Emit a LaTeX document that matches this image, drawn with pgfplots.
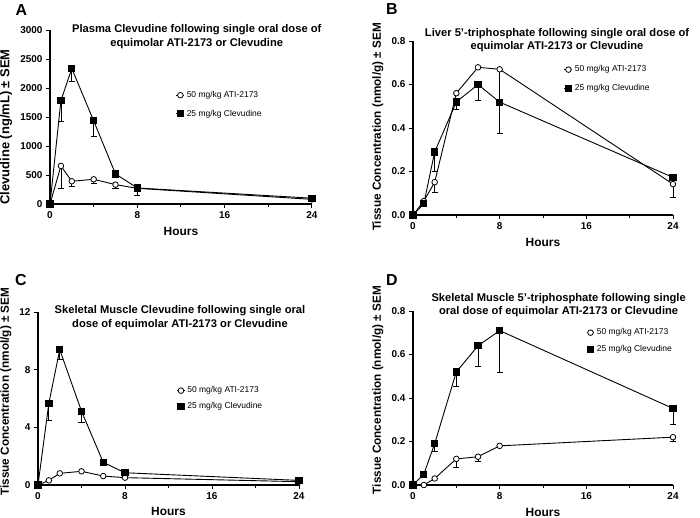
\documentclass[border=0pt]{standalone}
\usepackage{fontspec}
\setmainfont{Liberation Sans}
\usepackage{pgfplots}
\pgfplotsset{compat=1.18}
\pgfplotsset{
  panel/.style={
    anchor=south west, scale only axis, clip=false,
    axis lines=left, axis line style={-, line width=1.2bp, black},
    xmin=0, xmax=24, ymin=0,
    xtick={0,8,16,24}, minor xtick={4,12,20},
    tick align=outside, major tick length=4bp, minor tick length=2.5bp,
    tick style={black, line width=1bp},
    /pgf/number format/assume math mode=true,
    /pgf/number format/1000 sep={},
    ticklabel style={font=\bfseries\fontsize{10}{12}\selectfont},
    xlabel={Hours},
    xlabel style={font=\bfseries\fontsize{12}{14}\selectfont},
    ylabel style={font=\bfseries\fontsize{11.8}{14}\selectfont},
    every axis title shift=0pt,
    title style={anchor=center, align=center, font=\bfseries\fontsize{11.2}{13.5}\selectfont},
    legend style={draw=none, fill=none, font=\fontsize{8.5}{10}\selectfont, anchor=north west, row sep=7bp, inner sep=0pt},
    legend cell align=left,
    legend image code/.code={\draw[mark repeat=2,mark phase=2] plot coordinates {(0cm,0cm) (0.14cm,0cm) (0.28cm,0cm)};},
  },
  circ/.style={black, line width=0.9bp, mark=*, mark size=2.8bp, mark options={fill=white, line width=0.8bp}},
  sq/.style={black, line width=0.9bp, mark=square*, mark size=3.1bp, mark options={fill=black}},
  errs/.style={forget plot, draw=none,
    error bars/.cd, y dir=minus, y explicit, error mark=|,
    error bar style={draw=black, solid, line width=0.8bp},
    error mark options={draw=black, solid, mark size=3bp, line width=0.8bp}},
}
\begin{document}
\begin{tikzpicture}
\path[use as bounding box] (0,0) rectangle (700bp,-518bp);
\node[font=\bfseries\fontsize{16}{16}\selectfont] at (21.5bp,-10bp) {A};
\node[font=\bfseries\fontsize{16}{16}\selectfont] at (392bp,-9bp) {B};
\node[font=\bfseries\fontsize{16}{16}\selectfont] at (21bp,-280bp) {C};
\node[font=\bfseries\fontsize{16}{16}\selectfont] at (392bp,-280bp) {D};

% ---------------- A
\begin{axis}[panel, at={(50bp,-204bp)}, width=262bp, height=174bp,
  ymax=3000, ytick={0,500,1000,1500,2000,2500,3000},
  ylabel={Clevudine (ng/mL) ± SEM},
  ylabel style={at={(axis description cs:-0.168,0.443)}, anchor=center, font=\bfseries\fontsize{13}{15}\selectfont},
  xlabel style={at={(axis description cs:0.5,-0.155)}, anchor=center},
  title={Plasma Clevudine following single oral dose of\\equimolar ATI-2173 or Clevudine},
  title style={at={(axis description cs:0.56,0.963)}},
  legend style={at={(axis description cs:0.48,0.66)}},
]
\addplot[errs] coordinates {(1,656) -= (0,391) (2,392) -= (0,81) (4,426) -= (0,63) (6,334) -= (0,69)};
\addplot[errs] coordinates {(1,1785) -= (0,369) (2,2335) -= (0,228) (4,1434) -= (0,277) (8,276) -= (0,126)};
\addplot[circ] coordinates {(0,0) (1,656) (2,392) (4,426) (6,334) (8,270) (24,80)};
\addplot[sq] coordinates {(0,0) (1,1785) (2,2335) (4,1434) (6,518) (8,276) (24,100)};
\legend{50 mg/kg ATI-2173, 25 mg/kg Clevudine}
\end{axis}

% ---------------- B
\begin{axis}[panel, at={(413bp,-215bp)}, width=260bp, height=174bp,
  ymax=0.8, ytick={0,0.2,0.4,0.6,0.8},
  yticklabel style={/pgf/number format/.cd, fixed, fixed zerofill, precision=1},
  ylabel={Tissue Concentration (nmol/g) ± SEM},
  ylabel style={at={(axis description cs:-0.135,0.506)}, anchor=center},
  xlabel style={at={(axis description cs:0.5,-0.155)}, anchor=center},
  title={Liver 5’-triphosphate following single oral dose of\\equimolar ATI-2173 or Clevudine},
  title style={at={(axis description cs:0.554,1.006)}},
  legend style={at={(axis description cs:0.58,0.87)}},
]
\addplot[errs] coordinates {(2,0.151) -= (0,0.046) (8,0.67) -= (0,0.15) (24,0.142) -= (0,0.063)};
\addplot[errs] coordinates {(2,0.29) -= (0,0.09) (4,0.52) -= (0,0.035) (6,0.60) -= (0,0.073) (8,0.519) -= (0,0.143)};
\addplot[circ] coordinates {(0,0) (1,0.064) (2,0.151) (4,0.56) (6,0.679) (8,0.67) (24,0.142)};
\addplot[sq] coordinates {(0,0) (1,0.052) (2,0.29) (4,0.52) (6,0.60) (8,0.519) (24,0.173)};
\legend{50 mg/kg ATI-2173, 25 mg/kg Clevudine}
\end{axis}

% ---------------- C
\begin{axis}[panel, at={(38bp,-485bp)}, width=261bp, height=173bp,
  ymax=12, ytick={0,4,8,12},
  ylabel={Tissue Concentration (nmol/g) ± SEM},
  ylabel style={at={(axis description cs:-0.123,0.54)}, anchor=center},
  xlabel style={at={(axis description cs:0.5,-0.155)}, anchor=center},
  title={Skeletal Muscle Clevudine following single oral\\dose of equimolar ATI-2173 or Clevudine},
  title style={at={(axis description cs:0.544,0.968)}},
  legend style={at={(axis description cs:0.53,0.58)}, row sep=4bp},
]
\addplot[errs] coordinates {(1,5.68) -= (0,1.18) (2,9.39) -= (0,0.67) (4,5.12) -= (0,0.78)};
\addplot[circ] coordinates {(0,0) (1,0.32) (2,0.81) (4,0.95) (6,0.62) (8,0.51) (24,0.23)};
\addplot[sq] coordinates {(0,0) (1,5.68) (2,9.39) (4,5.12) (6,1.57) (8,0.85) (24,0.32)};
\legend{50 mg/kg ATI-2173, 25 mg/kg Clevudine}
\end{axis}

% ---------------- D
\begin{axis}[panel, at={(413bp,-485bp)}, width=260bp, height=174bp,
  ymax=0.8, ytick={0,0.2,0.4,0.6,0.8},
  yticklabel style={/pgf/number format/.cd, fixed, fixed zerofill, precision=1},
  ylabel={Tissue Concentration (nmol/g) ± SEM},
  ylabel style={at={(axis description cs:-0.135,0.545)}, anchor=center},
  xlabel style={at={(axis description cs:0.5,-0.155)}, anchor=center},
  title={Skeletal Muscle 5’-triphosphate following single\\oral dose of equimolar ATI-2173 or Clevudine},
  title style={at={(axis description cs:0.56,1.034)}},
  legend style={at={(axis description cs:0.665,0.91)}, row sep=5bp},
]
\addplot[errs] coordinates {(4,0.12) -= (0,0.037) (6,0.13) -= (0,0.02) (24,0.22) -= (0,0.02)};
\addplot[errs] coordinates {(2,0.19) -= (0,0.037) (4,0.52) -= (0,0.066) (6,0.64) -= (0,0.094) (8,0.71) -= (0,0.19) (24,0.352) -= (0,0.075)};
\addplot[circ] coordinates {(0,0) (1,0.0) (2,0.03) (4,0.12) (6,0.13) (8,0.18) (24,0.22)};
\addplot[sq] coordinates {(0,0) (1,0.05) (2,0.19) (4,0.52) (6,0.64) (8,0.71) (24,0.352)};
\legend{50 mg/kg ATI-2173, 25 mg/kg Clevudine}
\end{axis}
\end{tikzpicture}
\end{document}
